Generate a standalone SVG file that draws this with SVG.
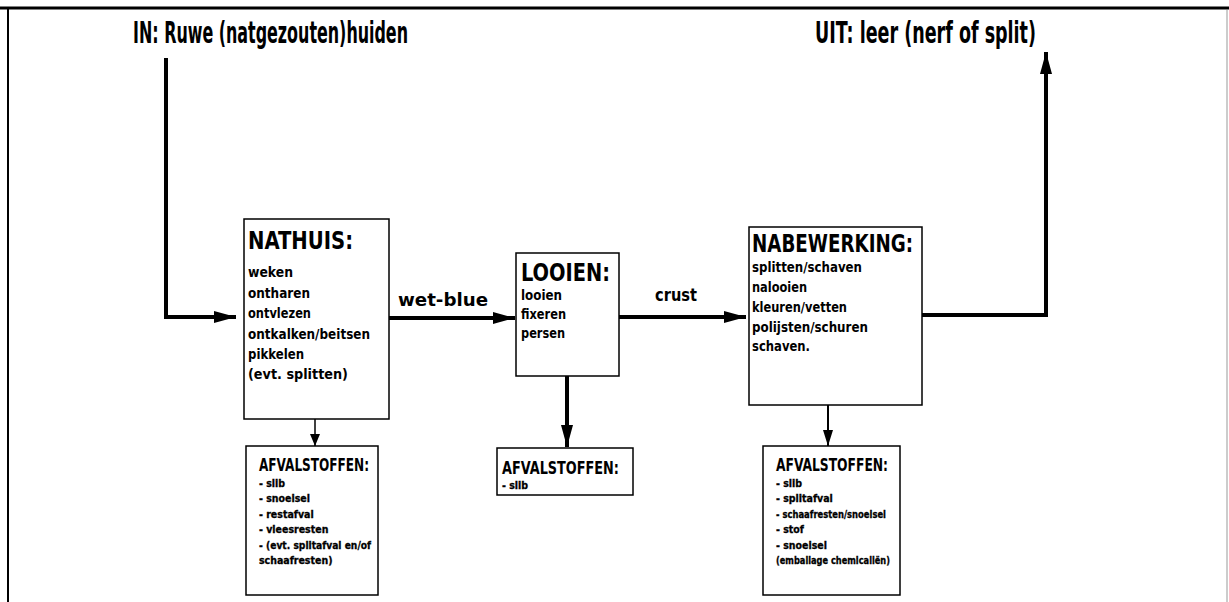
<svg xmlns="http://www.w3.org/2000/svg" width="1229" height="602" viewBox="0 0 1229 602">
<style>
.t{font-family:"Liberation Sans Narrow","DejaVu Sans Condensed","Liberation Sans",sans-serif;font-weight:bold;fill:#000}
.title{font-size:30px}
.head{font-size:25px}
.item{font-size:14px}
.whead{font-size:18px}
.witem{font-size:10.5px;stroke:#000;stroke-width:0.3}
.lbl{font-family:"DejaVu Sans","Liberation Sans",sans-serif;font-weight:bold;font-size:17px}
.box{fill:#fff;stroke:#000;stroke-width:1.5}
.thick{fill:none;stroke:#000;stroke-width:4}
.thin{fill:none;stroke:#000;stroke-width:1.5}
</style>
<defs>
<marker id="ah" viewBox="0 0 22 12" refX="22" refY="6" markerWidth="22" markerHeight="12" markerUnits="userSpaceOnUse" orient="auto">
<path d="M0,0 L22,6 L0,12 Z" fill="#000"/>
</marker>
<marker id="ahs" viewBox="0 0 12 10" refX="12" refY="5" markerWidth="12" markerHeight="10" markerUnits="userSpaceOnUse" orient="auto">
<path d="M0,0 L12,5 L0,10 Z" fill="#000"/>
</marker>
<marker id="ahm" viewBox="0 0 16 10" refX="16" refY="5" markerWidth="16" markerHeight="10" markerUnits="userSpaceOnUse" orient="auto">
<path d="M0,0 L16,5 L0,10 Z" fill="#000"/>
</marker>
</defs>
<rect width="1229" height="602" fill="#fff"/>
<g id="frame">
<line x1="0" y1="8" x2="1229" y2="8" stroke="#000" stroke-width="3"/>
<line x1="8" y1="7" x2="8" y2="602" stroke="#000" stroke-width="2"/>
<line x1="1227" y1="10" x2="1227" y2="602" stroke="#bbb" stroke-width="1.5"/>
</g>
<g id="in-label"><text class="t title" x="133" y="43" textLength="275" lengthAdjust="spacingAndGlyphs">IN: Ruwe (natgezouten)huiden</text></g>
<g id="out-label"><text class="t title" x="815" y="43" textLength="221" lengthAdjust="spacingAndGlyphs">UIT: leer (nerf of split)</text></g>
<g id="connectors">
<path class="thick" d="M166,58 V317 H236" marker-end="url(#ah)"/>
<path class="thick" d="M389,318 H515" marker-end="url(#ah)"/>
<path class="thick" d="M619,317 H746" marker-end="url(#ah)"/>
<path class="thick" d="M922,315 H1046 V52" marker-end="url(#ah)"/>
<path class="thin" d="M315,419 V446" marker-end="url(#ahs)"/>
<path class="thick" d="M567,376 V447" marker-end="url(#ah)"/>
<path class="thin" style="stroke-width:2" d="M828,405 V446" marker-end="url(#ahm)"/>
<text class="lbl" x="398" y="306" textLength="90" lengthAdjust="spacingAndGlyphs">wet-blue</text>
<text class="lbl" x="655" y="301" textLength="42" lengthAdjust="spacingAndGlyphs">crust</text>
</g>
<g id="nathuis">
<rect class="box" x="244" y="219" width="145" height="200"/>
<text class="t head" x="248" y="249" textLength="105" lengthAdjust="spacingAndGlyphs">NATHUIS:</text>
<text class="t item" x="248" y="277" textLength="45" lengthAdjust="spacingAndGlyphs">weken</text>
<text class="t item" x="248" y="298" textLength="62" lengthAdjust="spacingAndGlyphs">ontharen</text>
<text class="t item" x="248" y="318" textLength="63" lengthAdjust="spacingAndGlyphs">ontvlezen</text>
<text class="t item" x="248" y="339" textLength="122" lengthAdjust="spacingAndGlyphs">ontkalken/beitsen</text>
<text class="t item" x="248" y="359" textLength="56" lengthAdjust="spacingAndGlyphs">pikkelen</text>
<text class="t item" x="248" y="379" textLength="100" lengthAdjust="spacingAndGlyphs">(evt. splitten)</text>
</g>
<g id="looien">
<rect class="box" x="516" y="253" width="103" height="123"/>
<text class="t head" x="521" y="281" textLength="89" lengthAdjust="spacingAndGlyphs">LOOIEN:</text>
<text class="t item" x="521" y="300" textLength="41" lengthAdjust="spacingAndGlyphs">looien</text>
<text class="t item" x="521" y="319" textLength="45" lengthAdjust="spacingAndGlyphs">fixeren</text>
<text class="t item" x="521" y="338" textLength="44" lengthAdjust="spacingAndGlyphs">persen</text>
</g>
<g id="nabewerking">
<rect class="box" x="749" y="227" width="173" height="178"/>
<text class="t head" x="752" y="252" textLength="161" lengthAdjust="spacingAndGlyphs">NABEWERKING:</text>
<text class="t item" x="752" y="272" textLength="110" lengthAdjust="spacingAndGlyphs">splitten/schaven</text>
<text class="t item" x="752" y="292" textLength="55" lengthAdjust="spacingAndGlyphs">nalooien</text>
<text class="t item" x="752" y="312" textLength="95" lengthAdjust="spacingAndGlyphs">kleuren/vetten</text>
<text class="t item" x="752" y="332" textLength="116" lengthAdjust="spacingAndGlyphs">polijsten/schuren</text>
<text class="t item" x="752" y="351" textLength="58" lengthAdjust="spacingAndGlyphs">schaven.</text>
</g>
<g id="afval-nathuis">
<rect class="box" x="246" y="446" width="132" height="149"/>
<text class="t whead" x="259" y="471" textLength="110" lengthAdjust="spacingAndGlyphs">AFVALSTOFFEN:</text>
<text class="t witem" x="259" y="487">- slib</text>
<text class="t witem" x="259" y="502">- snoeisel</text>
<text class="t witem" x="259" y="518">- restafval</text>
<text class="t witem" x="259" y="533">- vleesresten</text>
<text class="t witem" x="259" y="549" textLength="112" lengthAdjust="spacingAndGlyphs">- (evt. splitafval en/of</text>
<text class="t witem" x="259" y="564">schaafresten)</text>
</g>
<g id="afval-looien">
<rect class="box" x="497" y="448" width="136" height="47"/>
<text class="t whead" x="502" y="474" textLength="117" lengthAdjust="spacingAndGlyphs">AFVALSTOFFEN:</text>
<text class="t witem" x="502" y="489">- slib</text>
</g>
<g id="afval-nabewerking">
<rect class="box" x="763" y="446" width="137" height="149"/>
<text class="t whead" x="776" y="471" textLength="112" lengthAdjust="spacingAndGlyphs">AFVALSTOFFEN:</text>
<text class="t witem" x="776" y="487">- slib</text>
<text class="t witem" x="776" y="502">- splitafval</text>
<text class="t witem" x="776" y="518" textLength="110" lengthAdjust="spacingAndGlyphs">- schaafresten/snoeisel</text>
<text class="t witem" x="776" y="533">- stof</text>
<text class="t witem" x="776" y="549">- snoeisel</text>
<text class="t witem" x="776" y="564" textLength="114" lengthAdjust="spacingAndGlyphs">(emballage chemicaliën)</text>
</g>
</svg>
